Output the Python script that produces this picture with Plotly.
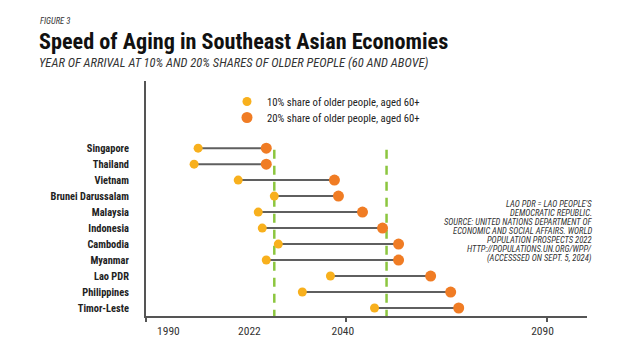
import plotly.graph_objects as go

# ---- data ----
countries = ["Singapore", "Thailand", "Vietnam", "Brunei Darussalam", "Malaysia",
             "Indonesia", "Cambodia", "Myanmar", "Lao PDR", "Philippines", "Timor-Leste"]
year_10pct = [2003, 2002, 2013, 2022, 2018, 2019, 2023, 2020, 2036, 2029, 2047]
year_20pct = [2020, 2020, 2037, 2038, 2044, 2049, 2053, 2053, 2061, 2066, 2068]
ref_years = [2022, 2050]
tick_text = ["1990", "2022", "2040", "2090"]
tick_label_at = [1995.6, 2015.8, 2039.1, 2088.9]   # where the labels sit in the picture
tick_marks_at = [1990, 2040, 2090]

series_names = ["10% share of older people, aged 60+", "20% share of older people, aged 60+"]
note_lines = ["LAO PDR = LAO PEOPLE'S", "DEMOCRATIC REPUBLIC.",
              "SOURCE: UNITED NATIONS DEPARTMENT OF", "ECONOMIC AND SOCIAL AFFAIRS. WORLD",
              "POPULATION PROSPECTS 2022", "HTTP://POPULATIONS.UN.ORG/WPP/",
              "(ACCESSSED ON SEPT. 5, 2024)"]

FONT = "Roboto Condensed, Roboto, Arial, sans-serif"
YELLOW = "#F8B01D"
ORANGE = "#F07C24"
GREEN = "#8CC63F"
GRAY = "#5f5f5f"

rows = list(range(len(countries)))

fig = go.Figure()

# connectors
cx, cy = [], []
for r, a, b in zip(rows, year_10pct, year_20pct):
    cx += [a, b, None]
    cy += [r, r, None]
fig.add_trace(go.Scatter(x=cx, y=cy, mode="lines", line=dict(color=GRAY, width=2),
                         showlegend=False, hoverinfo="skip"))

# reference dashed lines
for yr in ref_years:
    fig.add_trace(go.Scatter(x=[yr, yr], y=[0.1, len(countries) - 0.5], mode="lines",
                             line=dict(color=GREEN, width=2.5, dash="9px,7px"),
                             showlegend=False, hoverinfo="skip"))

fig.add_trace(go.Scatter(x=year_10pct, y=rows, mode="markers", name=series_names[0],
                         marker=dict(color=YELLOW, size=9), legend="legend"))
fig.add_trace(go.Scatter(x=year_20pct, y=rows, mode="markers", name=series_names[1],
                         marker=dict(color=ORANGE, size=11), legend="legend2"))

L, R, T, B = 146, 53, 81, 44
PW, PH = 640 - L - R, 360 - T - B


def px(x):
    return (x - L) / PW


def py(y):
    return (360 - B - y) / PH


annotations = [
    dict(text="<i>FIGURE 3</i>", x=px(38), y=py(21), xanchor="left", yanchor="middle",
         font=dict(size=8.6, color="#333333", family=FONT)),
    dict(text="<b>Speed of Aging in Southeast Asian Economies</b>", x=px(37), y=py(41),
         xanchor="left", yanchor="middle", font=dict(size=22.2, color="#111111", family=FONT)),
    dict(text="<i>YEAR OF ARRIVAL AT 10% AND 20% SHARES OF OLDER PEOPLE (60 AND ABOVE)</i>",
         x=px(37), y=py(62), xanchor="left", yanchor="middle",
         font=dict(size=12.5, color="#333333", family=FONT)),
]
for i, line in enumerate(note_lines):
    annotations.append(dict(text=f"<i>{line}</i>", x=px(594), y=py(204 + 9.05 * i),
                            xanchor="right", yanchor="middle", align="right",
                            font=dict(size=8.6, color="#333333", family=FONT)))
for a in annotations:
    a.update(xref="paper", yref="paper", showarrow=False)

legend_common = dict(xanchor="left", yanchor="top", bgcolor="rgba(0,0,0,0)",
                     font=dict(size=10.7, color="#222222", family=FONT))

fig.update_layout(
    width=640, height=360,
    margin=dict(l=L, r=R, t=T, b=B),
    paper_bgcolor="white", plot_bgcolor="white",
    font=dict(family=FONT, color="#222222"),
    annotations=annotations,
    legend=dict(x=px(227), y=py(87), **legend_common),
    legend2=dict(x=px(227), y=py(103), **legend_common),
    xaxis=dict(range=[1990, 2100], showgrid=False, zeroline=False,
               showline=True, linecolor="#555555", linewidth=2,
               tickvals=tick_label_at, ticktext=tick_text, ticks="",
               ticklabelstandoff=3,
               tickfont=dict(size=11.5, color="#333333", family=FONT),
               minor=dict(tickvals=tick_marks_at, ticks="outside", ticklen=4,
                          tickcolor="#555555", tickwidth=2)),
    yaxis=dict(range=[len(countries) - 0.5, -4.2], showgrid=False, zeroline=False,
               showline=True, linecolor="#555555", linewidth=2,
               tickvals=rows, ticktext=[f"<b>{c}</b>" for c in countries], ticks="",
               ticklabelstandoff=13,
               tickfont=dict(size=10.4, color="#222222", family=FONT)),
)

fig.write_html("out.html", config={"displayModeBar": False},
               post_script="document.body.style.margin='0px';")
